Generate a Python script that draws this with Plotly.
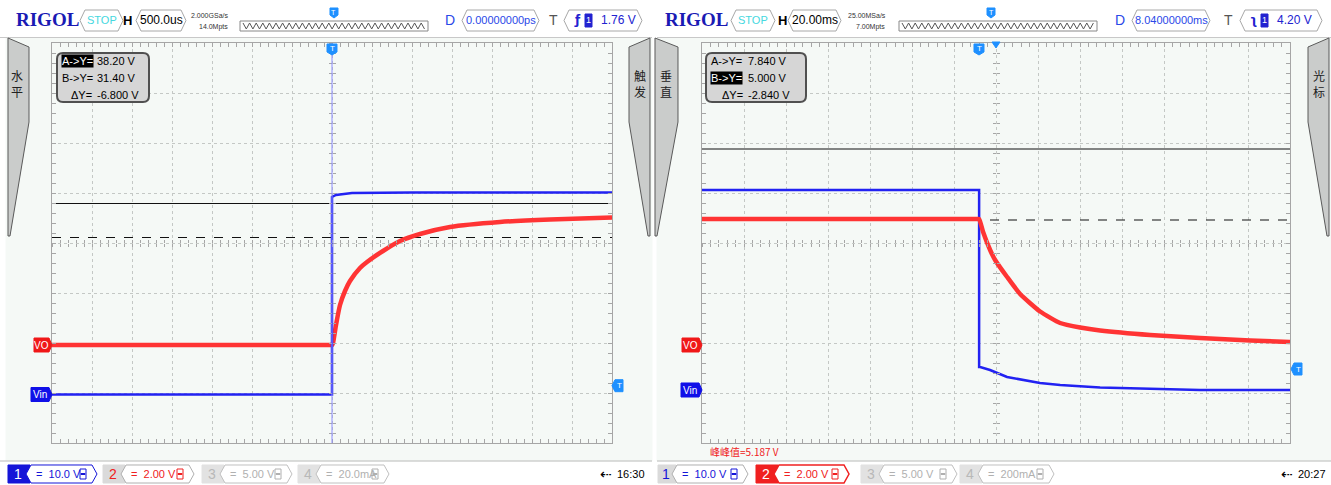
import plotly.graph_objects as go

# ---------------- data ----------------
# Left capture: 500 us/div, trigger at t=0 (ms)
L_T_VIN = [-3.5, 0.0, 0.0, 0.05, 0.25, 1.0, 3.5]
L_VIN = [0.0, 0.0, 39.5, 39.9, 40.3, 40.4, 40.4]            # CH1, V
L_T_VO = [-3.5, -0.05, 0.0, 0.0125, 0.05, 0.1, 0.1625, 0.225, 0.35, 0.4375,
          0.6375, 0.85, 1.1, 1.475, 2.1, 2.725, 3.5]
L_VO = [0.0, 0.0, 0.0, 0.08, 0.8, 1.6, 2.16, 2.56, 3.08, 3.32,
        3.76, 4.16, 4.44, 4.72, 4.92, 5.02, 5.1]             # CH2, V
L_CURSOR = [38.20, 31.40]        # cursors on CH1 (A solid, B dashed)
L_TRIG = 1.76                    # CH1 trigger level
L_SCALE = {"ch1": 10.0, "ch2": 2.0}      # V/div
L_OFFSET = {"ch1": -3.03, "ch2": -2.04}  # div
L_TDIV, L_DELAY = 0.5, 0.0               # ms/div, ms

# Right capture: 20 ms/div, delay 8.04 ms
R_T_VIN = [-131.96, 0.0, 0.0, 0.5, 5.2, 13.3, 29.0, 38.6, 57.6, 81.4, 105.2, 148.04]
R_VIN = [40.0, 40.0, 4.6, 4.6, 4.0, 2.6, 1.4, 1.0, 0.5, 0.2, 0.0, 0.0]
R_T_VO = [-131.96, -1.0, 0.0, 1.9, 5.24, 7.62, 13.33, 19.52, 29.05, 38.57, 48.1,
          57.62, 81.43, 105.24, 129.05, 148.04]
R_VO = [5.04, 5.04, 5.04, 4.52, 3.8, 3.4, 2.72, 2.04, 1.34, 0.88, 0.7,
        0.58, 0.4, 0.28, 0.18, 0.12]
R_CURSOR = [7.840, 5.000]        # cursors on CH2
R_TRIG = 4.20
R_SCALE = {"ch1": 10.0, "ch2": 2.0}
R_OFFSET = {"ch1": -2.94, "ch2": -2.04}
R_TDIV, R_DELAY = 20.0, 8.04

# ---------------- helpers ----------------
W, H = 1331, 485
NARROW = "Liberation Sans Narrow, Arial Narrow, Liberation Sans, sans-serif"
CJK = "Noto Sans CJK SC"
BLUE, RED = "#2222F2", "#FF3434"
BODY = "#F5F9F6"

def X(p): return p / W
def Y(p): return 1 - p / H

shapes, annots = [], []

def text(x, y, s, size=11, color="black", anchor="left", family=NARROW, bg=None):
    annots.append(dict(x=X(x), y=Y(y), xref="paper", yref="paper", text=s,
                       showarrow=False, xanchor=anchor, yanchor="middle",
                       font=dict(size=size, color=color, family=family),
                       bgcolor=bg, borderpad=0))

def path(pts, fill, line, width=1, closed=True, layer="above"):
    d = "M " + " L ".join(f"{X(a):.5f},{Y(b):.5f}" for a, b in pts) + (" Z" if closed else "")
    shapes.append(dict(type="path", xref="paper", yref="paper", path=d,
                       fillcolor=fill if closed else None,
                       line=dict(color=line, width=width), layer=layer))

def rect(x0, y0, x1, y1, fill, line=None, width=1, layer="above"):
    shapes.append(dict(type="rect", xref="paper", yref="paper", x0=X(x0), x1=X(x1),
                       y0=Y(y1), y1=Y(y0), fillcolor=fill,
                       line=dict(color=line or fill, width=width), layer=layer))

def hexbox(x0, x1, y0, y1, line="#A8A8A8", fill="white", width=1):
    m = (y0 + y1) / 2
    path([(x0, m), (x0 + 5, y0), (x1 - 5, y0), (x1, m), (x1 - 5, y1), (x0 + 5, y1)],
         fill, line, width)

def rbox(x0, y0, x1, y1, r, fill, line, width=2):
    d = (f"M {X(x0+r)},{Y(y0)} L {X(x1-r)},{Y(y0)} Q {X(x1)},{Y(y0)} {X(x1)},{Y(y0+r)} "
         f"L {X(x1)},{Y(y1-r)} Q {X(x1)},{Y(y1)} {X(x1-r)},{Y(y1)} L {X(x0+r)},{Y(y1)} "
         f"Q {X(x0)},{Y(y1)} {X(x0)},{Y(y1-r)} L {X(x0)},{Y(y0+r)} Q {X(x0)},{Y(y0)} {X(x0+r)},{Y(y0)} Z")
    shapes.append(dict(type="path", xref="paper", yref="paper", path=d, fillcolor=fill,
                       line=dict(color=line, width=width)))

def zigzag(x0, x1, y0, y1):
    rect(x0, y0, x1, y1, "white", "#888888")
    pts, x, up = [], x0 + 3, True
    while x <= x1 - 3:
        pts.append((x, y0 + 2 if up else y1 - 2))
        up = not up
        x += 3.3
    path(pts, None, "#555555", 1, closed=False)

def side_tab(outer, inner, chars, cx):
    path([(outer, 38), (inner, 47), (inner, 122), (outer + (2 if outer < inner else -2), 236),
          (outer, 236)], "#CACCCB", "#5A5A5A", 1)
    text(cx, 75, chars[0], 12, "#222222", "center", CJK)
    text(cx, 91, chars[1], 12, "#222222", "center", CJK)

def ch_tag(tip_x, y, label, color, w):
    path([(tip_x - 3 - w, y - 7), (tip_x - 3, y - 7), (tip_x, y), (tip_x - 3, y + 7),
          (tip_x - 3 - w, y + 7)], color, color)
    text(tip_x - 3 - w / 2, y, label, 10, "white", "center")

def trig_level_tag(tip_x, y):
    path([(tip_x, y), (tip_x + 3, y - 6), (tip_x + 11, y - 6), (tip_x + 11, y + 6),
          (tip_x + 3, y + 6)], "#1E90FF", "#1E90FF")
    text(tip_x + 7, y, "T", 8, "white", "center")

def top_T(x, y):
    path([(x - 5, y), (x + 5, y), (x + 5, y + 8), (x, y + 11), (x - 5, y + 8)],
         "#1E90FF", "#1E90FF")
    text(x, y + 4.5, "T", 8, "white", "center")

def header(x_rigol, stop, h_x, hb, hval, sa_x, sa1, sa2, zz, tmark, d_x, db, dval,
           t_x, tb, slope, tval):
    text(x_rigol, 20, "<b>RIGOL</b>", 19, "#1A1AB4", "left", "Liberation Serif")
    hexbox(stop[0], stop[1], 10, 31)
    text((stop[0] + stop[1]) / 2, 20.5, "STOP", 11, "#45D8E0", "center")
    text(h_x, 20.5, "<b>H</b>", 13, "black", "center")
    hexbox(hb[0], hb[1], 10, 31)
    text((hb[0] + hb[1]) / 2, 20.5, hval, 12, "black", "center")
    text(sa_x, 15, sa1, 7, "#333333", "left")
    text(sa_x + 8, 27, sa2, 7, "#333333", "left")
    zigzag(zz[0], zz[1], 21, 31)
    path([(tmark - 4, 8), (tmark + 4, 8), (tmark + 4, 15), (tmark, 18), (tmark - 4, 15)],
         "#1E90FF", "#1E90FF")
    text(tmark, 12, "T", 7, "white", "center")
    text(d_x, 20.5, "D", 14, "#2A48E8", "center")
    hexbox(db[0], db[1], 10, 31)
    text((db[0] + db[1]) / 2, 20.5, dval, 11, "#2A48E8", "center")
    text(t_x, 20.5, "T", 14, "#555555", "center")
    hexbox(tb[0], tb[1], 10, 31)
    text(tb[0] + 13, 20.5, "<b>" + slope + "</b>", 12, "#2222D0", "center", "DejaVu Sans")
    rect(tb[0] + 21, 14, tb[0] + 28, 27, "#2222D0")
    text(tb[0] + 24.5, 20.5, "1", 9, "white", "center")
    text(tb[0] + 36, 20.5, tval, 12, "#2222D0", "left")

def ch_box(tag0, box0, box1, num, numcolor, tagfill, val, valcolor, boxline, lw=1):
    path([(tag0, 465), (box0 + 4, 465), (box0 + 4, 483), (tag0, 483)], tagfill, tagfill)
    text((tag0 + box0) / 2 + 1, 474, num, 14, numcolor, "center")
    hexbox(box0, box1, 465, 483, boxline, "white", lw)
    text(box0 + 9, 474, "=  " + val, 11, valcolor, "left")
    rect(box1 - 17, 469, box1 - 11, 479, "white", valcolor)
    rect(box1 - 16, 473.5, box1 - 12, 474.5, valcolor)

# ---------------- backgrounds ----------------
rect(0, 0, 1331, 485, "white", layer="below")
rect(6, 38, 652, 461, BODY, layer="below")
rect(657, 38, 1331, 461, BODY, layer="below")
path([(0, 37.5), (652, 37.5)], None, "#C8C8C8", 1, closed=False)
path([(657, 37.5), (1331, 37.5)], None, "#C8C8C8", 1, closed=False)
path([(0, 461), (652, 461)], None, "#BBBBBB", 1, closed=False)
path([(657, 461), (1331, 461)], None, "#BBBBBB", 1, closed=False)

# ---------------- figure / axes ----------------
fig = go.Figure()
LX = [X(52), X(612)]
RX = [X(702), X(1290)]
YD = [Y(443), Y(43)]
tick_c = "#A6A6A6"

def grid_x(rng, t0, dt, mdt, dom):
    return dict(range=rng, domain=dom, tick0=t0, dtick=dt, showgrid=True, gridcolor="#C4C8C5",
                griddash="dot", gridwidth=1, zeroline=False, showline=True, linecolor=tick_c,
                linewidth=1, mirror="ticks", ticks="inside", ticklen=4, tickcolor=tick_c,
                showticklabels=False, fixedrange=True,
                minor=dict(tick0=t0, dtick=mdt, ticks="inside", ticklen=4, tickcolor=tick_c,
                           showgrid=False))

def center_axis(over, rng, t0, dt, pos, side_ticks):
    return dict(overlaying=over, anchor="free", position=pos, range=rng, tick0=t0, dtick=dt,
                showgrid=False, zeroline=False, showline=False, ticks=side_ticks, ticklen=3,
                tickcolor=tick_c, showticklabels=False, fixedrange=True)

l_rng = [L_DELAY - 7 * L_TDIV, L_DELAY + 7 * L_TDIV]
r_rng = [R_DELAY - 7 * R_TDIV, R_DELAY + 7 * R_TDIV]

layout_axes = dict(
    xaxis=dict(grid_x(l_rng, L_DELAY, L_TDIV, L_TDIV / 5, LX), anchor="y"),
    yaxis=dict(grid_x([-4, 4], 0, 1, 0.2, YD), anchor="x"),
    xaxis2=dict(grid_x(r_rng, R_DELAY, R_TDIV, R_TDIV / 5, RX), anchor="y2"),
    yaxis2=dict(grid_x([-4, 4], 0, 1, 0.2, YD), anchor="x2"),
    xaxis3=center_axis("x", l_rng, L_DELAY, L_TDIV / 5, (YD[0] + YD[1]) / 2, "inside"),
    xaxis4=center_axis("x", l_rng, L_DELAY, L_TDIV / 5, (YD[0] + YD[1]) / 2, "outside"),
    xaxis5=center_axis("x2", r_rng, R_DELAY, R_TDIV / 5, (YD[0] + YD[1]) / 2, "inside"),
    xaxis6=center_axis("x2", r_rng, R_DELAY, R_TDIV / 5, (YD[0] + YD[1]) / 2, "outside"),
    yaxis3=center_axis("y", [-4, 4], 0, 0.2, (LX[0] + LX[1]) / 2, "inside"),
    yaxis4=center_axis("y", [-4, 4], 0, 0.2, (LX[0] + LX[1]) / 2, "outside"),
    yaxis5=center_axis("y2", [-4, 4], 0, 0.2, (RX[0] + RX[1]) / 2, "inside"),
    yaxis6=center_axis("y2", [-4, 4], 0, 0.2, (RX[0] + RX[1]) / 2, "outside"),
)

# dummy traces so the overlay axes get drawn
for xa, ya in [("x3", "y3"), ("x4", "y4"), ("x5", "y5"), ("x6", "y6")]:
    fig.add_trace(go.Scatter(x=[None], y=[None], xaxis=xa, yaxis=ya, showlegend=False,
                             hoverinfo="skip"))

def to_div(vals, scale, off):
    return [v / scale + off for v in vals]

# trigger position line (left capture)
shapes.append(dict(type="line", xref="x", yref="y domain", x0=0, x1=0, y0=0, y1=1,
                   line=dict(color="#8C8CFF", width=1)))

# cursor lines
for xa, ya, rng, cur, sc, off in [("x", "y", l_rng, L_CURSOR, L_SCALE["ch1"], L_OFFSET["ch1"]),
                                  ("x2", "y2", r_rng, R_CURSOR, R_SCALE["ch2"], R_OFFSET["ch2"])]:
    for v, dash in zip(cur, ["solid", "dash"]):
        fig.add_trace(go.Scatter(x=rng, y=to_div([v, v], sc, off), xaxis=xa, yaxis=ya,
                                 mode="lines", line=dict(color="#111111", width=1.2, dash=dash),
                                 showlegend=False, hoverinfo="skip"))

# waveforms
fig.add_trace(go.Scatter(x=L_T_VO, y=to_div(L_VO, L_SCALE["ch2"], L_OFFSET["ch2"]),
                         xaxis="x", yaxis="y", mode="lines",
                         line=dict(color=RED, width=4.5, shape="spline", smoothing=0.5),
                         name="Vo", showlegend=False))
fig.add_trace(go.Scatter(x=L_T_VIN, y=to_div(L_VIN, L_SCALE["ch1"], L_OFFSET["ch1"]),
                         xaxis="x", yaxis="y", mode="lines", line=dict(color=BLUE, width=2.5),
                         name="Vin", showlegend=False))
fig.add_trace(go.Scatter(x=R_T_VIN, y=to_div(R_VIN, R_SCALE["ch1"], R_OFFSET["ch1"]),
                         xaxis="x2", yaxis="y2", mode="lines", line=dict(color=BLUE, width=2.5),
                         name="Vin", showlegend=False))
fig.add_trace(go.Scatter(x=R_T_VO, y=to_div(R_VO, R_SCALE["ch2"], R_OFFSET["ch2"]),
                         xaxis="x2", yaxis="y2", mode="lines",
                         line=dict(color=RED, width=4.5, shape="spline", smoothing=0.5),
                         name="Vo", showlegend=False))

# ---------------- decorations ----------------
def ypix(div): return 243 - div * 50

# header
header(15, (80, 123), 127, (136, 186), "500.0us", 190, "2.000GSa/s", "14.0Mpts",
       (240, 428), 334, 450, (462, 539), "0.00000000ps", 553, (564, 642), "ƒ", "1.76 V")
header(664, (731, 775), 782, (788, 841), "20.00ms", 847, "25.00MSa/s", "7.00Mpts",
       (899, 1097), 991, 1120, (1132, 1210), "8.04000000ms", 1228, (1240, 1322), "ʅ", "4.20 V")

# side tabs
side_tab(8, 29, "水平", 17)
side_tab(650, 629, "触发", 640)
side_tab(655, 678, "垂直", 666)
side_tab(1329, 1308, "光标", 1319)

# cursor readouts
rbox(57, 53, 149, 102, 6, "#D6D6D6", "#505050", 2)
text(61, 61, "A->Y=", 11, "white", "left", NARROW, "#000000")
text(96, 61, "38.20 V", 11, "black")
text(61, 78, "B->Y=", 11, "black")
text(96, 78, "31.40 V", 11, "black")
text(93, 95, "ΔY=", 11, "black", "right")
text(96, 95, "-6.800 V", 11, "black")

rbox(706, 53, 806, 102, 6, "#D6D6D6", "#505050", 2)
text(710, 61, "A->Y=", 11, "black")
text(747, 61, "7.840 V", 11, "black")
text(710, 78, "B->Y=", 11, "white", "left", NARROW, "#000000")
text(747, 78, "5.000 V", 11, "black")
text(744, 95, "ΔY=", 11, "black", "right")
text(747, 95, "-2.840 V", 11, "black")

# channel ground tags
ch_tag(52, ypix(L_OFFSET["ch2"]), "VO", "#F01818", 15)
ch_tag(52, ypix(L_OFFSET["ch1"]), "Vin", "#1010E8", 18)
ch_tag(702, ypix(R_OFFSET["ch2"]), "VO", "#F01818", 17)
ch_tag(702, ypix(R_OFFSET["ch1"]), "Vin", "#1010E8", 18)

# trigger level tags
trig_level_tag(612, ypix(L_TRIG / L_SCALE["ch1"] + L_OFFSET["ch1"]))
trig_level_tag(1291, ypix(R_TRIG / R_SCALE["ch1"] + R_OFFSET["ch1"]))

# trigger position markers
top_T(332, 44)
top_T(979, 44)
path([(992, 42), (1000, 42), (996, 48)], "#1E90FF", "#1E90FF")

# measurement text
text(709, 451, "峰峰值=5.187 V", 10, "#F02020", "left", CJK)

# bottom channel bar, left capture
ch_box(8, 26, 97, "1", "white", "#1515D8", "10.0 V", "#1515D8", "#1515D8")
ch_box(103, 121, 194, "2", "#F02020", "#DADADA", "2.00 V", "#F02020", "#B0B0B0")
ch_box(202, 220, 292, "3", "#B8B8B8", "#E2E2E2", "5.00 V", "#B0B0B0", "#C0C0C0")
ch_box(298, 316, 389, "4", "#B8B8B8", "#E2E2E2", "20.0mA", "#B0B0B0", "#C0C0C0")
text(606, 474, "⇠", 14, "black", "center", "DejaVu Sans")
text(616, 474, "16:30", 11, "black", "left")

# bottom channel bar, right capture
ch_box(658, 672, 748, "1", "#1515D8", "#DADADA", "10.0 V", "#1515D8", "#B0B0B0")
ch_box(756, 774, 849, "2", "white", "#F02020", "2.00 V", "#F02020", "#F02020", 1.5)
ch_box(861, 879, 957, "3", "#B8B8B8", "#E2E2E2", "5.00 V", "#B0B0B0", "#C0C0C0")
ch_box(960, 978, 1054, "4", "#B8B8B8", "#E2E2E2", "200mA", "#B0B0B0", "#C0C0C0")
text(1287, 474, "⇠", 14, "black", "center", "DejaVu Sans")
text(1297, 474, "20:27", 11, "black", "left")

fig.update_layout(width=W, height=H, margin=dict(l=0, r=0, t=0, b=0),
                  paper_bgcolor="white", plot_bgcolor=BODY, showlegend=False,
                  shapes=shapes, annotations=annots, **layout_axes)
fig.write_html("out.html", config={"displayModeBar": False, "staticPlot": True},
               post_script="document.body.style.margin='0';document.body.style.padding='0';"
                           "document.body.style.overflow='hidden';")
